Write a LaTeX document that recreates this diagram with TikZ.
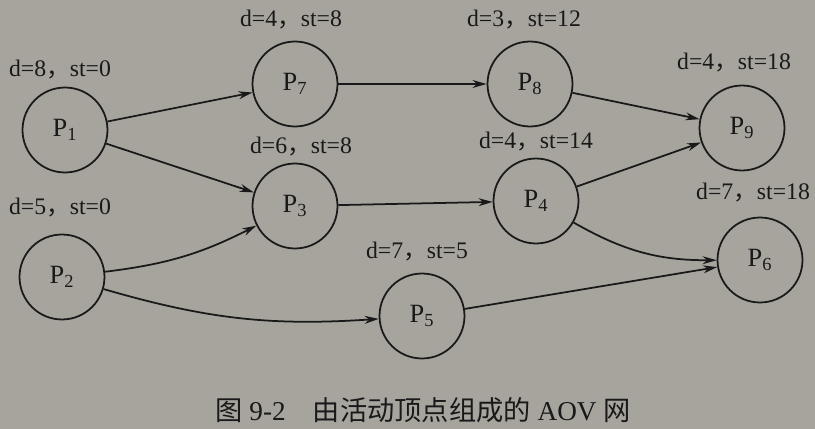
\documentclass[tikz,border=0pt]{standalone}
\usepackage{fontspec}
\setmainfont{Liberation Serif}
\newfontfamily\cjk{Noto Sans CJK SC}
\usetikzlibrary{arrows.meta}
\definecolor{paper}{RGB}{166,164,157}
\definecolor{ink}{RGB}{25,25,25}
\newcommand{\dst}[2]{d=#1{\cjk ，}st=#2}

\begin{document}
\begin{tikzpicture}[x=0.02cm, y=-0.02cm, >={Stealth[length=8pt,width=4.5pt]}, font=\fontsize{13.5}{16}\selectfont, ink]
    \tikzstyle{proc}=[draw,shape=circle,minimum size=1.7cm,line width=1pt,font=\fontsize{15}{18}\selectfont]
    \tikzstyle{link}=[->,line width=1pt]
    \fill [paper] (0,0) rectangle (815,429);
    \useasboundingbox (0,0) rectangle (815,429);

    % draw processes
    \foreach \n/\x/\y in {1/65/130, 2/62/277, 3/295/206, 4/536/201, 5/422/316, 6/760/260, 7/295/84, 8/530/84, 9/742/128}
    \node [proc] (P\n) at (\x,\y) {P\textsubscript{\n}};

    % draw durations and start times
    \foreach \n/\d/\s/\x/\y in {1/8/0/60/70, 2/5/0/60/208, 7/4/8/291/20, 3/6/8/301/147, 5/7/5/417/252, 8/3/12/524/20, 4/4/14/536/142, 9/4/18/734/63, 6/7/18/753/193}
    \node (d\n) at (\x,\y) {\dst{\d}{\s}};

    \node [font=\fontsize{15.5}{18}\selectfont] (caption) at (423,410) {{\cjk 图} 9-2\hspace{1em}{\cjk 由活动顶点组成的} AOV {\cjk 网}};

    % draw arcs
    \draw [link] (P1) -- (P7);
    \draw [link] (P1) -- (P3);
    \draw [link] (P2) to [bend right=10] (P3);
    \draw [link] (P2) to [bend right=10] (P5);
    \draw [link] (P7) -- (P8);
    \draw [link] (P3) -- (P4);
    \draw [link] (P8) -- (P9);
    \draw [link] (P4) -- (P9);
    \draw [link] (P4) to [bend right=15] (P6);
    \draw [link] (P5) -- (P6);

\end{tikzpicture}
\end{document}
